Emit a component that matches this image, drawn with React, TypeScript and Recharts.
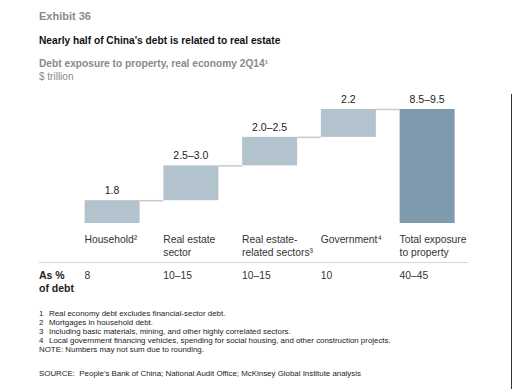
import { Bar, BarChart, LabelList, XAxis, YAxis } from "recharts";

const CATEGORIES = ["Household", "Real estate sector", "Real estate-related sectors", "Government", "Total exposure"];
const CATEGORY_LINES = [
  ["Household²"],
  ["Real estate", "sector"],
  ["Real estate-", "related sectors³"],
  ["Government⁴"],
  ["Total exposure", "to property"],
];
// $ trillion; ranges drawn at their midpoint
const VALUES = [1.8, 2.75, 2.25, 2.2, 9.0];
const VALUE_LABELS = ["1.8", "2.5–3.0", "2.0–2.5", "2.2", "8.5–9.5"];
const SHARE_LABELS = ["8", "10–15", "10–15", "10", "40–45"];
const IS_TOTAL = [false, false, false, false, true];

const FOOTNOTES = [
  ["1", "Real economy debt excludes financial-sector debt."],
  ["2", "Mortgages in household debt."],
  ["3", "Including basic materials, mining, and other highly correlated sectors."],
  ["4", "Local government financing vehicles, spending for social housing, and other construction projects."],
];

let running = 0;
const data = CATEGORIES.map((name, i) => {
  const base = IS_TOTAL[i] ? 0 : running;
  if (!IS_TOTAL[i]) running += VALUES[i];
  return { name, base, value: VALUES[i], total: IS_TOTAL[i], label: VALUE_LABELS[i], share: SHARE_LABELS[i] };
});

const FONT = "'Liberation Sans', Arial, sans-serif";
const BAR_SIZE = 55;
const GAP = 23.75;

const StepBar = (props: any) => {
  const { x, y, width, height, index, payload } = props;
  return (
    <g>
      <rect x={x} y={y} width={width} height={height} fill={payload.total ? "#7f9aac" : "#b3c3ce"} />
      {index < CATEGORIES.length - 1 && (
        <line x1={x + width} x2={x + width + GAP} y1={y + 0.5} y2={y + 0.5} stroke="#c9c9c9" strokeWidth={1.5} />
      )}
    </g>
  );
};

const ValueLabel = (props: any) => {
  const { x, y, width, index } = props;
  return (
    <text x={x + width / 2} y={y - 6} textAnchor="middle" fontSize={10.5} fill="#222" fontFamily={FONT}>
      {VALUE_LABELS[index]}
    </text>
  );
};

const CategoryTick = (props: any) => {
  const { x, y, payload } = props;
  const i = payload.index;
  const left = x - BAR_SIZE / 2;
  return (
    <g>
      {CATEGORY_LINES[i].map((line, k) => (
        <text key={k} x={left} y={y + 20 + k * 13} fontSize={10.3} fill="#333" fontFamily={FONT}>
          {line}
        </text>
      ))}
      <text x={left} y={y + 56} fontSize={10.3} fill="#333" fontFamily={FONT}>
        {SHARE_LABELS[i]}
      </text>
    </g>
  );
};

export default function App() {
  return (
    <div
      style={{
        position: "absolute",
        left: 0,
        top: 0,
        width: 514,
        height: 389,
        background: "#fff",
        fontFamily: FONT,
        overflow: "hidden",
      }}
    >
      <div style={{ position: "absolute", left: 39, top: 10, fontSize: 11, fontWeight: "bold", color: "#8a8a8a", lineHeight: "12px" }}>
        Exhibit 36
      </div>
      <div style={{ position: "absolute", left: 39, top: 35, fontSize: 10.2, fontWeight: "bold", color: "#111", lineHeight: "12px" }}>
        Nearly half of China's debt is related to real estate
      </div>
      <div style={{ position: "absolute", left: 39, top: 58, fontSize: 10.2, fontWeight: "bold", color: "#8a8a8a", lineHeight: "12px" }}>
        Debt exposure to property, real economy 2Q14¹
      </div>
      <div style={{ position: "absolute", left: 39, top: 71, fontSize: 10, color: "#8a8a8a", lineHeight: "11px" }}>
        $ trillion
      </div>

      <div style={{ position: "absolute", left: 0, top: 0 }}>
        <BarChart
          width={514}
          height={389}
          data={data}
          margin={{ top: 109, right: 47.6, bottom: 86, left: 72.6 }}
          barSize={BAR_SIZE}
        >
          <XAxis
            dataKey="name"
            interval={0}
            tickLine={false}
            axisLine={false}
            tickSize={0}
            tickMargin={0}
            height={80}
            tick={<CategoryTick />}
          />
          <YAxis hide domain={[0, 9]} />
          <Bar dataKey="base" stackId="a" fill="transparent" isAnimationActive={false} />
          <Bar dataKey="value" stackId="a" shape={<StepBar />} isAnimationActive={false}>
            <LabelList dataKey="label" content={<ValueLabel />} />
          </Bar>
        </BarChart>
      </div>

      <div style={{ position: "absolute", left: 39, top: 262, width: 429, height: 1, background: "#d6d6d6" }} />
      <div style={{ position: "absolute", left: 39, top: 269, fontSize: 10.5, fontWeight: "bold", color: "#222", lineHeight: "13px" }}>
        As %
        <br />
        of debt
      </div>

      <div style={{ position: "absolute", left: 39, top: 309, fontSize: 7.9, color: "#222", lineHeight: "9px" }}>
        {FOOTNOTES.map(([n, t]) => (
          <div key={n} style={{ height: 9 }}>
            <span style={{ display: "inline-block", width: 10 }}>{n}</span>
            {t}
          </div>
        ))}
        <div style={{ height: 9 }}>NOTE: Numbers may not sum due to rounding.</div>
      </div>
      <div style={{ position: "absolute", left: 39, top: 369, fontSize: 7.9, color: "#222", lineHeight: "9px" }}>
        SOURCE:&nbsp; People's Bank of China; National Audit Office; McKinsey Global Institute analysis
      </div>

      <div style={{ position: "absolute", left: 511, top: 94, width: 1, height: 295, background: "#333" }} />
    </div>
  );
}
